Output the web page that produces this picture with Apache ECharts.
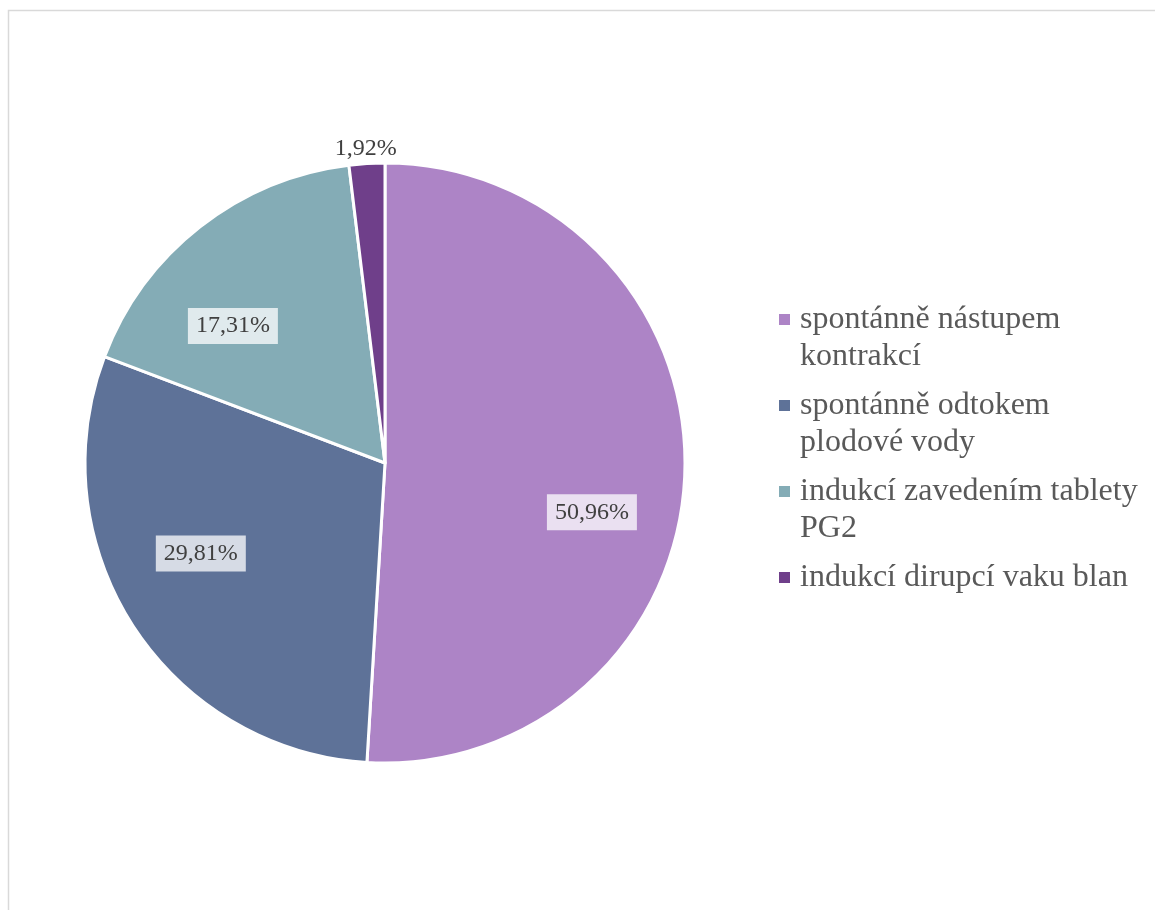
<!DOCTYPE html>
<html>
<head>
<meta charset="utf-8">
<script src="https://cdn.jsdelivr.net/npm/echarts@6/dist/echarts.min.js"></script>
<style>
html,body{margin:0;padding:0;background:#fff;}
#chart{width:1155px;height:910px;}
</style>
</head>
<body>
<div id="chart"></div>
<script>
const categories = [
  'spontánně nástupem kontrakcí',
  'spontánně odtokem plodové vody',
  'indukcí zavedením tablety PG2',
  'indukcí dirupcí vaku blan'
];
const legendLines = [
  ['spontánně nástupem', 'kontrakcí'],
  ['spontánně odtokem', 'plodové vody'],
  ['indukcí zavedením tablety', 'PG2'],
  ['indukcí dirupcí vaku blan']
];
const values = [50.96, 29.81, 17.31, 1.92];
const labels = ['50,96%', '29,81%', '17,31%', '1,92%'];
const colors = ['#AD84C6', '#5E7298', '#84ACB6', '#6F3F8A'];

// label nudges (style, not data): Excel-like placement adjustments
const labelNudge = [[-4, 43], [-7, -24], [-22, 29], [0, 4]];

const FONT = '"Liberation Serif", "Times New Roman", serif';
const chart = echarts.init(document.getElementById('chart'));

const baseData = categories.map((c, i) => ({ name: c, value: values[i] }));

const rich = {
  t: { fontFamily: FONT, fontSize: 32, lineHeight: 37, color: '#595959' },
  sp: { width: 10, height: 10 },
  ind: { width: 21, height: 10 }
};
colors.forEach((c, i) => {
  rich['sq' + i] = { width: 11, height: 11, backgroundColor: c, verticalAlign: 'middle' };
});

const labelStyle = {
  fontFamily: FONT,
  fontSize: 24,
  color: '#404040',
  backgroundColor: 'rgba(255,255,255,0.75)',
  padding: [6, 8, 6, 8]
};

const nudge = function (params) {
  const n = labelNudge[params.dataIndex] || [0, 0];
  return { dx: n[0], dy: n[1] };
};

chart.setOption({
  animation: false,
  graphic: [{
    type: 'rect',
    shape: { x: 8.5, y: 10.5, width: 1300, height: 1000 },
    style: { fill: 'none', stroke: '#d9d9d9', lineWidth: 1.5 },
    silent: true, z: -10
  }],
  legend: {
    orient: 'vertical',
    left: 769,
    top: 296,
    icon: 'none',
    itemWidth: 0,
    itemHeight: 0,
    itemGap: 12,
    data: categories,
    selectedMode: false,
    formatter: function (name) {
      const i = categories.indexOf(name);
      const lines = legendLines[i];
      let s = '{sq' + i + '| }{sp| }{t|' + lines[0] + '}';
      for (let k = 1; k < lines.length; k++) {
        s += '\n{ind| }{t|' + lines[k] + '}';
      }
      return s;
    },
    textStyle: { fontFamily: FONT, fontSize: 32, lineHeight: 37, color: '#595959', rich: rich }
  },
  series: [
    {
      type: 'pie',
      center: [385, 463],
      radius: [0, 300],
      startAngle: 90,
      clockwise: true,
      data: baseData.map((d, i) => ({ name: d.name, value: d.value, itemStyle: { color: colors[i] } })),
      itemStyle: { borderColor: '#ffffff', borderWidth: 3 },
      label: { show: false },
      labelLine: { show: false },
      emphasis: { scale: false }
    },
    {
      type: 'pie',
      center: [385, 463],
      radius: [116, 300],
      startAngle: 90,
      clockwise: true,
      silent: true,
      data: baseData.map((d, i) => ({
        name: d.name, value: d.value,
        label: { show: i < 3 }
      })),
      itemStyle: { color: 'rgba(0,0,0,0)' },
      label: Object.assign({ show: true, position: 'inside', formatter: p => labels[p.dataIndex] }, labelStyle),
      labelLine: { show: false },
      labelLayout: nudge
    },
    {
      type: 'pie',
      center: [385, 463],
      radius: [300, 332],
      startAngle: 90,
      clockwise: true,
      silent: true,
      data: baseData.map((d, i) => ({
        name: d.name, value: d.value,
        label: { show: i === 3 }
      })),
      itemStyle: { color: 'rgba(0,0,0,0)' },
      label: {
        show: true, position: 'inside', formatter: p => labels[p.dataIndex],
        fontFamily: FONT, fontSize: 24, color: '#404040'
      },
      labelLine: { show: false },
      labelLayout: nudge
    }
  ]
});
</script>
</body>
</html>
